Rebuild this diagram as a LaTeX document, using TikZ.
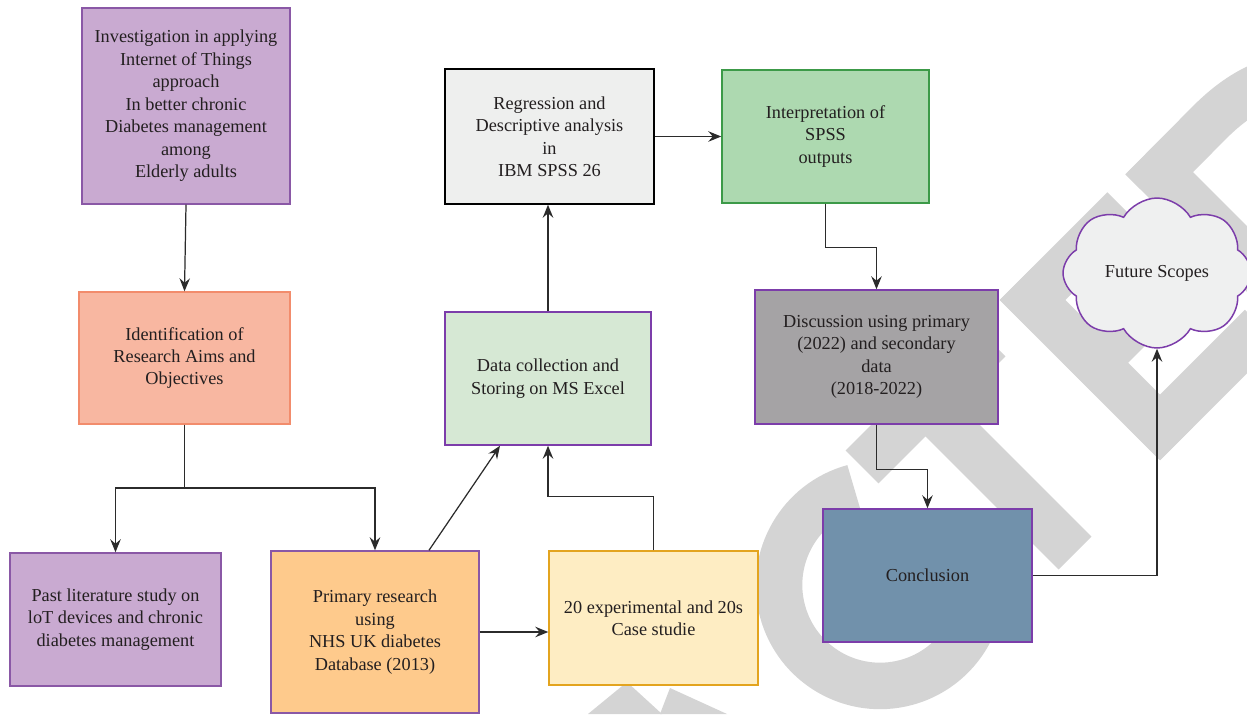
\documentclass[tikz,border=0pt]{standalone}
\usepackage{fontspec}
\setmainfont{Liberation Serif}
\usetikzlibrary{arrows.meta,shapes.symbols,calc}

\definecolor{ink}{HTML}{231F20}
\definecolor{wire}{HTML}{2B2B2B}
\definecolor{wmgray}{HTML}{D4D4D4}
\definecolor{lilac}{HTML}{C9AAD1}
\definecolor{lilacedge}{HTML}{8A58A6}
\definecolor{salmon}{HTML}{F8B7A1}
\definecolor{salmonedge}{HTML}{F28C6C}
\definecolor{apricot}{HTML}{FECA8C}
\definecolor{cream}{HTML}{FEEDC3}
\definecolor{creamedge}{HTML}{E3A41F}
\definecolor{mint}{HTML}{D6E8D4}
\definecolor{paper}{HTML}{EEEFEE}
\definecolor{leaf}{HTML}{ADD9B0}
\definecolor{leafedge}{HTML}{3C9A48}
\definecolor{slate}{HTML}{A5A3A5}
\definecolor{steel}{HTML}{7191AB}
\definecolor{violet}{HTML}{7C3DAA}
\definecolor{mist}{HTML}{EFF0F0}

\begin{document}
\begin{tikzpicture}[x=0.02cm, y=-0.02cm,
  box/.style={rectangle, line width=0.85pt, align=center, inner sep=0pt,
    text=ink, font=\fontsize{10.4}{12.8}\selectfont},
  conn/.style={draw=wire, line width=0.7pt},
  arr/.style={conn, -{Stealth[length=2.6mm,width=2.1mm,inset=0.9mm]}},
  wm/.style={draw=wmgray, line width=0.93cm}]

\useasboundingbox (0,0) rectangle (1247,714);
\fill[white] (0,0) rectangle (1247,714);

% watermark lettering behind the chart
\begin{scope}
  \clip (0,0) rectangle (1247,714);
  \fill[wmgray] (588,714) -- (627,682) -- (662,714) -- cycle;
  \fill[wmgray] (660,714) -- (670,688) -- (727,714) -- cycle;
  % C
  \draw[wm] (853.9,487.4) arc[start angle=105, end angle=345, radius=2.02cm];
  % T
  \draw[wm] (862,467) -- (989,340);
  \draw[wm] (925,403) -- (1075,553);
  % E
  \draw[wm] (1016.25,283.75) -- (1176.25,443.75);
  \draw[wm] (1016.25,316.25) -- (1123.75,208.75);
  \draw[wm] (1079,379) -- (1169,289);
  \draw[wm] (1143.75,443.75) -- (1261.25,326.25);
  % D
  \draw[wm] (1144,156) -- (1344,356);
  \draw[wm] (1141.75,190.75) -- (1210,122) .. controls (1250,82) and (1290,70) .. (1330,80);
\end{scope}

% boxes
\node[box, fill=lilac, draw=lilacedge, minimum width=4.16cm, minimum height=3.92cm] (inv) at (186,106)
  {Investigation in applying\\Internet of Things\\approach\\In better chronic\\Diabetes management\\among\\Elderly adults};
\node[box, fill=salmon, draw=salmonedge, minimum width=4.22cm, minimum height=2.64cm] (ident) at (184.5,358)
  {Identification of\\Research Aims and\\Objectives};
\node[box, fill=lilac, draw=lilacedge, minimum width=4.22cm, minimum height=2.66cm] (past) at (115.5,619.5)
  {Past literature study on\\loT devices and chronic\\diabetes management};
\node[box, fill=apricot, draw=lilacedge, minimum width=4.16cm, minimum height=3.24cm] (prim) at (375,632)
  {Primary research\\using\\NHS UK diabetes\\Database (2013)};
\node[box, fill=cream, draw=creamedge, minimum width=4.18cm, minimum height=2.68cm] (exp) at (653.5,618)
  {20 experimental and 20s\\Case studie};
\node[box, fill=mint, draw=violet, minimum width=4.12cm, minimum height=2.66cm] (data) at (548,378.5)
  {Data collection and\\Storing on MS Excel};
\node[box, fill=paper, draw=black, minimum width=4.18cm, minimum height=2.70cm] (reg) at (549.5,136.5)
  {Regression and\\Descriptive analysis\\in\\IBM SPSS 26};
\node[box, fill=leaf, draw=leafedge, minimum width=4.14cm, minimum height=2.66cm] (interp) at (825.5,136.5)
  {Interpretation of\\SPSS\\outputs};
\node[box, fill=slate, draw=violet, minimum width=4.86cm, minimum height=2.68cm] (disc) at (876.5,357)
  {Discussion using primary\\(2022) and secondary\\data\\(2018-2022)};
\node[box, fill=steel, draw=violet, minimum width=4.18cm, minimum height=2.66cm] (concl) at (927.5,575.5)
  {Conclusion};
\node[cloud, cloud puffs=8, cloud puff arc=120, aspect=1.25, fill=mist, draw=violet,
  line width=0.85pt, minimum width=3.76cm, minimum height=3cm, inner sep=0pt,
  text=ink, font=\fontsize{10.4}{12.8}\selectfont] (cloud) at (1157,273) {Future Scopes};

% connectors
\coordinate (fork) at (184.5,488);
\draw[arr] (inv.south) -- (ident.north);
\draw[conn] (ident.south) -- (fork);
\draw[arr] (fork) -| (past.north);
\draw[arr] (fork) -| (prim.north);
\draw[arr] ($(prim.north)+(54,0)$) -- ($(data.south)+(-48,0)$);
\draw[arr] (prim.east) -- (prim.east -| exp.west);
\draw[arr] (exp.north) -- ++(0,-54) -| (data.south);
\draw[arr] (data.north) -- (data.north |- reg.south);
\draw[arr] (reg.east) -- (reg.east -| interp.west);
\draw[arr] (interp.south) -- ++(0,44) -| (disc.north);
\draw[arr] (disc.south) -- ++(0,45) -| (concl.north);
\draw[arr] (concl.east) -| (cloud.south);

\end{tikzpicture}
\end{document}
